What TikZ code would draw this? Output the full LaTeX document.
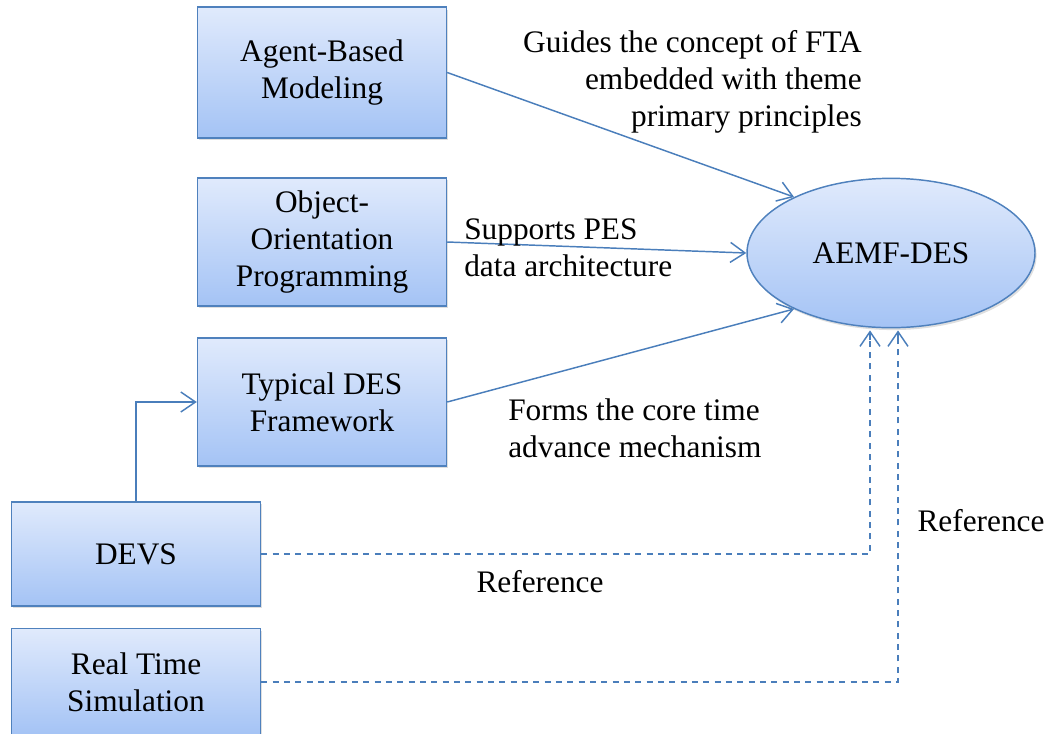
\documentclass[tikz,border=0pt]{standalone}
\usepackage{fontspec}
\setmainfont{Liberation Serif}
\usetikzlibrary{arrows.meta,shapes.geometric,shadows,calc}
\definecolor{edgeblue}{RGB}{79,129,189}
\definecolor{lineblue}{RGB}{74,126,187}
\definecolor{filltop}{RGB}{224,234,252}
\definecolor{fillbot}{RGB}{164,195,245}
\begin{document}
\begin{tikzpicture}[x=0.75pt,y=-0.75pt,
  every node/.style={font=\fontsize{23.5}{28}\selectfont},
  shade/.style={top color=filltop, bottom color=fillbot, draw=edgeblue, line width=1.1pt,
    drop shadow={shadow xshift=1.2pt, shadow yshift=-1.8pt, opacity=0.25}},
  block/.style={shade, rectangle, minimum width=186.75pt, align=center, inner sep=0pt},
  goal/.style={shade, ellipse, minimum width=216pt, minimum height=112pt, inner sep=0pt},
  conn/.style={draw=lineblue, line width=1.1pt, -{Straight Barb[length=11pt,width=15pt,line width=1.1pt]}},
  ref/.style={draw=lineblue, line width=1.3pt, dash pattern=on 4.5pt off 4pt},
  note/.style={inner sep=0pt}
]
\useasboundingbox (0,0) rectangle (1050,733);

% source blocks
\node[block, minimum height=98pt] (abm)  at (322,72.5) {Agent-Based\\Modeling};
\node[block, minimum height=96pt] (oop)  at (322,242)  {Object-\\Orientation\\Programming};
\node[block, minimum height=96pt] (tdes) at (322,402)  {Typical DES\\Framework};
\node[block, minimum height=78pt] (devs) at (136,554)  {DEVS};
\node[block, minimum height=80pt] (rts)  at (136,682)  {Real Time\\Simulation};

% target
\node[goal] (ell) at (891,253) {AEMF-DES};

% solid connectors
\draw[conn] (abm.east) -- (ell.150);
\draw[conn] (oop.east) -- (ell.west);
\draw[conn] (tdes.east) -- (ell.210);
\draw[conn] (devs.north) |- (tdes.west);

% dashed reference links into the bottom of the ellipse, with solid heads
\coordinate (c1) at ($(ell.south)+(-21,2)$);
\coordinate (c2) at ($(ell.south)+(7,2)$);
\coordinate (d1) at ($(c1)+(0,10)$);
\coordinate (d2) at ($(c2)+(0,10)$);
\draw[ref] (devs.east) -| (d1);
\draw[conn] (d1) -- (c1);
\draw[ref] (rts.east) -| (d2);
\draw[conn] (d2) -- (c2);

% labels
\node[note, align=right, anchor=east] (lg) at (862,82)  {Guides the concept of FTA\\embedded with theme\\primary principles};
\node[note, align=left, anchor=west]  (ls) at (464,248) {Supports PES\\data architecture};
\node[note, align=left, anchor=west]  (lf) at (508,428) {Forms the core time\\advance mechanism};
\node[note] (lr1) at (540,582) {Reference};
\node[note] (lr2) at (981,521) {Reference};
\end{tikzpicture}
\end{document}
